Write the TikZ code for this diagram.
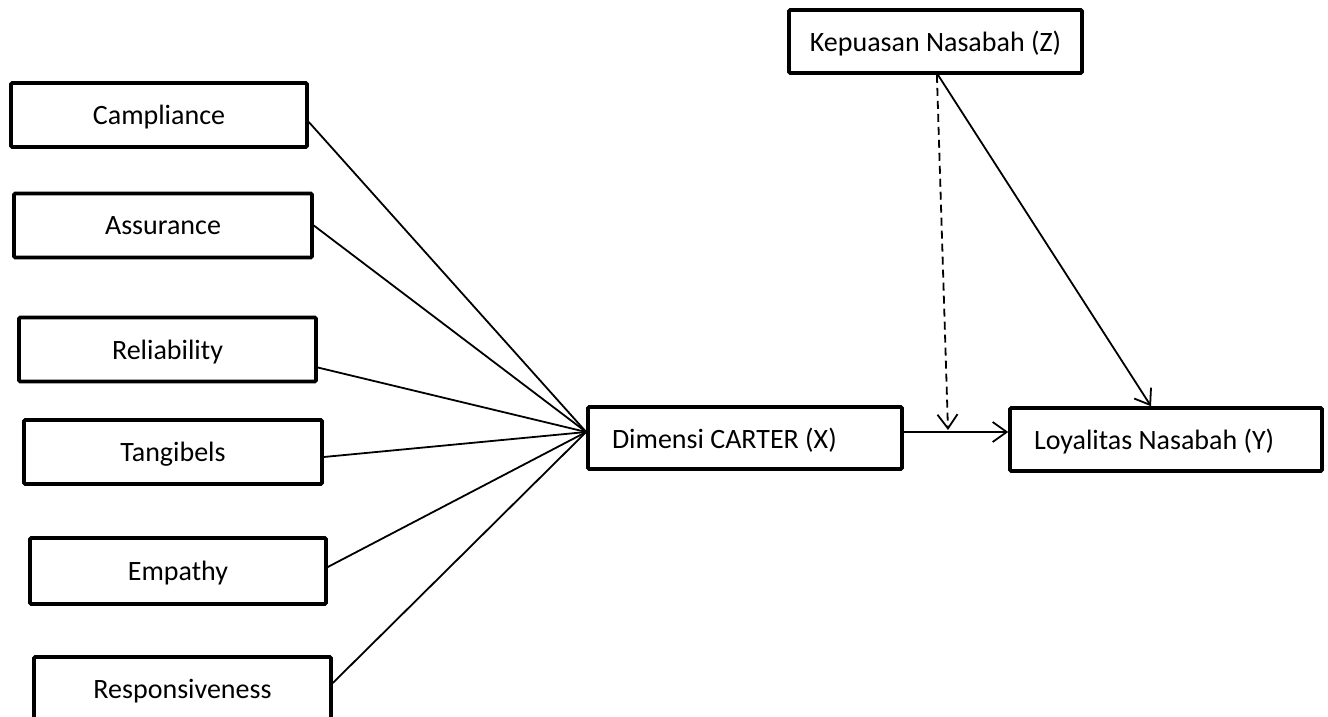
\documentclass[tikz,border=0pt]{standalone}
\usepackage{fontspec}
\setmainfont{Carlito}
\usetikzlibrary{arrows.meta,calc}

\begin{document}
\begin{tikzpicture} [
				x=0.5pt, y=-0.5pt,
				font=\fontsize{14pt}{17pt}\selectfont,
				box/.style={draw, line width=1.8pt, rounded corners=0.6pt, minimum height=32pt, inner sep=0pt, text depth=0pt},
				dimbox/.style={box, align=flush left, inner xsep=12pt},
				link/.style={line width=0.9pt},
				arr/.style={link, -{Straight Barb[length=7pt, width=10pt, line width=0.9pt]}}
			]
			\useasboundingbox (0,0) rectangle (1328,717);
			% indicators
			\node[box, minimum width=148pt] (camp) at (159,115) {Campliance};
			\node[box, minimum width=149pt] (assu) at (163,225.5) {Assurance};
			\node[box, minimum width=148.5pt] (reli) at (167.5,349.5) {Reliability};
			\node[box, minimum width=149pt] (tang) at (173,452) {Tangibels};
			\node[box, minimum width=148pt, minimum height=33pt] (empa) at (178,571) {Empathy};
			\node[box, minimum width=148.5pt] (resp) at (182.5,689) {Responsiveness};
			% variables
			\node[dimbox, text width=133pt, minimum height=31pt] (dim) at (745,438) {Dimensi CARTER (X)};
			\node[dimbox, text width=132pt, minimum height=31.5pt] (loy) at (1166,439.5) {Loyalitas Nasabah (Y)};
			\node[box, minimum width=146.5pt, minimum height=31.5pt] (kep) at (935.5,41.5) {Kepuasan Nasabah (Z)};
			\coordinate (hub) at (dim.west |- 0,432);
			\coordinate (meet) at (948,432);
			\draw[link] ([yshift=-3.5pt]camp.east) -- (hub);
			\draw[link] (assu.east) -- (hub);
			\draw[link] ([yshift=-9pt]reli.east) -- (hub);
			\draw[link] ([yshift=-2.5pt]tang.east) -- (hub);
			\draw[link] ([yshift=2pt]empa.east) -- (hub);
			\draw[link] ([yshift=3pt]resp.east) -- (hub);
			\draw[arr] (dim.east |- hub) -- (loy.west |- hub);
			\draw[arr, dashed, dash pattern=on 4pt off 2.5pt] ([xshift=0.7pt]kep.south) -- ([yshift=1pt]meet);
			\draw[arr] ([xshift=1.2pt]kep.south) -- (loy.north -| 1151,0);
		\end{tikzpicture}
\end{document}
